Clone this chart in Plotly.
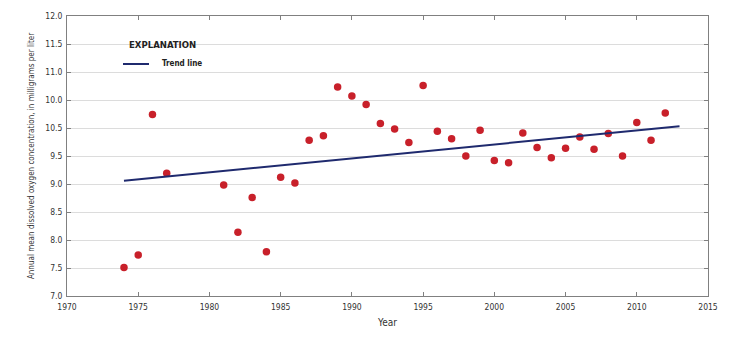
import plotly.graph_objects as go

years = [1974, 1975, 1976, 1977, 1981, 1982, 1983, 1984, 1985, 1986,
         1987, 1988, 1989, 1990, 1991, 1992, 1993, 1994, 1995, 1996,
         1997, 1998, 1999, 2000, 2001, 2002, 2003, 2004, 2005, 2006,
         2007, 2008, 2009, 2010, 2011, 2012]
oxygen = [7.51, 7.73, 10.24, 9.19, 8.98, 8.14, 8.76, 7.79, 9.12, 9.02,
          9.78, 9.86, 10.73, 10.57, 10.42, 10.08, 9.98, 9.74, 10.76, 9.94,
          9.81, 9.50, 9.96, 9.42, 9.38, 9.91, 9.65, 9.47, 9.64, 9.84,
          9.62, 9.90, 9.50, 10.10, 9.78, 10.27]
trend_years = [1974, 2013]
trend_values = [9.06, 10.03]

y_tickvals = [7.0, 7.5, 8.0, 8.5, 9.0, 9.5, 10.0, 10.5, 11.0, 11.5, 12.0]
y_ticktext = ["7.0", "7.5", "8.0", "8.5", "9.0", "9.5", "10.5", "10.0", "11.0", "11.5", "12.0"]
x_tickvals = [1970, 1975, 1980, 1985, 1990, 1995, 2000, 2005, 2010, 2015]

legend_title = "EXPLANATION"
legend_label = "Trend line"

FONT = "Liberation Sans Narrow, DejaVu Sans Condensed, Arial Narrow, sans-serif"
TREND_COLOR = "#1f2a6e"

# plot area in pixels (for placing the explanation box)
L, R, T, B = 67, 708, 16, 296


def px(xp):
    return (xp - L) / (R - L)


def py(yp):
    return (B - yp) / (B - T)


fig = go.Figure()
fig.add_trace(go.Scatter(
    x=years, y=oxygen, mode="markers", showlegend=False,
    marker=dict(color="#c8202a", size=7.5, line=dict(width=0)),
))
fig.add_trace(go.Scatter(
    x=trend_years, y=trend_values, mode="lines", showlegend=False,
    name=legend_label, line=dict(color=TREND_COLOR, width=2),
))

fig.add_shape(type="rect", xref="paper", yref="paper",
              x0=px(111), x1=px(214), y0=py(68), y1=py(34),
              fillcolor="white", line=dict(width=0), layer="between")
fig.add_shape(type="line", xref="paper", yref="paper",
              x0=px(123), x1=px(149), y0=py(64), y1=py(64),
              line=dict(color=TREND_COLOR, width=2), layer="above")
fig.add_annotation(xref="paper", yref="paper", x=px(162.5), y=py(45),
                   text="<b>" + legend_title + "</b>", showarrow=False,
                   xanchor="center", yanchor="middle",
                   font=dict(family=FONT, size=9.5, color="#222222"))
fig.add_annotation(xref="paper", yref="paper", x=px(162), y=py(64),
                   text="<b>" + legend_label + "</b>", showarrow=False,
                   xanchor="left", yanchor="middle", xshift=-2,
                   font=dict(family=FONT, size=8, color="#222222"))

fig.update_layout(
    width=735, height=339,
    margin=dict(l=L, r=735 - R, t=T, b=339 - B),
    paper_bgcolor="white", plot_bgcolor="white",
    font=dict(family=FONT, size=9, color="#333333"),
    showlegend=False,
    xaxis=dict(
        range=[1970, 2015], tickvals=x_tickvals,
        ticks="inside", ticklen=4, tickcolor="#808080",
        showline=True, linecolor="#808080", linewidth=1, mirror="ticks",
        showgrid=False, zeroline=False, ticklabelstandoff=3,
        title=dict(text="Year", font=dict(family=FONT, size=10, color="#333333"), standoff=7),
        tickfont=dict(family=FONT, size=8.5, color="#333333"),
    ),
    yaxis=dict(
        range=[7, 12], tickvals=y_tickvals, ticktext=y_ticktext,
        ticks="inside", ticklen=4, tickcolor="#808080",
        showline=True, linecolor="#808080", linewidth=1, mirror="ticks",
        showgrid=True, gridcolor="#dcdcdc", gridwidth=1, zeroline=False,
        ticklabelstandoff=2,
        title=dict(text="Annual mean dissolved oxygen concentration, in milligrams per liter",
                   font=dict(family=FONT, size=8, color="#333333"), standoff=9),
        tickfont=dict(family=FONT, size=8.5, color="#333333"),
    ),
)

fig.write_html("out.html")
